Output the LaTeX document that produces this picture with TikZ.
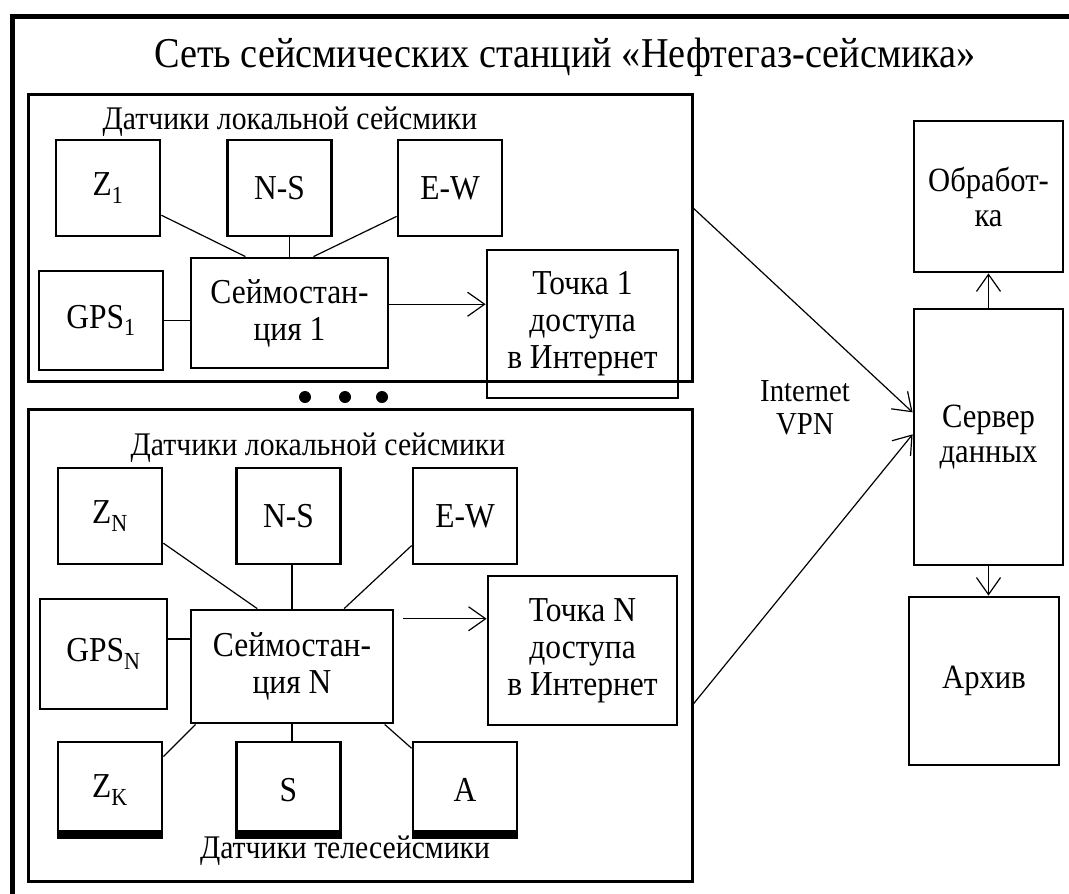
\documentclass[tikz,border=0pt]{standalone}
\usepackage{fontspec}
\setmainfont[FakeStretch=0.9]{Liberation Serif}
\usepackage{tikz}
\usetikzlibrary{shapes,arrows.meta}

\begin{document}
\begin{tikzpicture}[x=1pt,y=-1pt,
		box/.style={draw, line width=2.8pt, align=center, inner sep=0pt, font=\fontsize{35}{37}\selectfont},
		srv/.style={box, font=\fontsize{34}{35}\selectfont},
		grp/.style={draw, line width=3pt, inner sep=0pt},
		lbl/.style={font=\fontsize{33}{35}\selectfont},
		link/.style={line width=1.2pt},
		arr/.style={line width=1.2pt, -{Straight Barb[length=17pt,width=24pt]}}]
		\useasboundingbox (0,0) rectangle (1069,894);
		\draw[line width=5pt] (12,894) -- (12,16) -- (1069,16);
		\node[font=\fontsize{42.5}{46}\selectfont] (title) at (565,57) {Сеть сейсмических станций «Нефтегаз-сейсмика»};
		\node[grp, minimum width=664pt, minimum height=287pt] (grp1) at (360,237.5) {};
		\node[grp, minimum width=664pt, minimum height=472pt] (grp2) at (360,645) {};
		\node[lbl] (loc1) at (290,122) {Датчики локальной сейсмики};
		\node[lbl] (loc2) at (318,448) {Датчики локальной сейсмики};
		\node[lbl] (tele) at (345,851) {Датчики телесейсмики};
		\foreach \n/\x/\y/\t in {z1/108/188/Z\textsubscript{1}, ns1/279.5/188/N-S, ew1/450/188/E-W,
			zn/110/516/Z\textsubscript{N}, nsn/288.5/516/N-S, ewn/465/516/E-W,
			zk/110/790/Z\textsubscript{K}, s/288.5/790/S, a/465/790/A}{
			\node[box, minimum width=104pt, minimum height=96pt] (\n) at (\x,\y) {\t};
		}
		\foreach \n in {zk,s,a}{
			\draw[line width=9pt] ([yshift=4.5pt]\n.south west) -- ([yshift=4.5pt]\n.south east);
		}
		\node[box, minimum width=124pt, minimum height=99pt] (gps1) at (101,320.5) {GPS\textsubscript{1}};
		\node[box, minimum width=197pt, minimum height=110pt] (seis1) at (289.5,313) {Сеймостан-\\ция 1};
		\node[box, minimum width=191pt, minimum height=148pt] (tochka1) at (582.5,324) {Точка 1\\доступа\\в Интернет};
		\node[box, minimum width=127pt, minimum height=110pt] (gpsn) at (103.5,654) {GPS\textsubscript{N}};
		\node[box, minimum width=202pt, minimum height=113pt] (seisn) at (292,666.5) {Сеймостан-\\ция N};
		\node[box, minimum width=189pt, minimum height=149pt] (tochkan) at (582.5,650.5) {Точка N\\доступа\\в Интернет};
		\node[srv, minimum width=149pt, minimum height=151pt] (obrab) at (988.5,196.5) {Обработ-\\ка};
		\node[srv, minimum width=149pt, minimum height=256pt] (server) at (988.5,437) {Сервер\\данных};
		\node[srv, minimum width=150pt, minimum height=168pt] (arhiv) at (984,681) {Архив};
		\node[lbl, align=center, font=\fontsize{32}{33}\selectfont] (vpn) at (805,408) {Internet\\VPN};
		\foreach \x in {305,345,382}
			\fill (\x,397) circle (6pt);
		\draw[link] (z1.333) -- (seis1.128);
		\draw[link] (seis1.north) -- (seis1.north |- ns1.south);
		\draw[link] (ew1.208) -- (seis1.67);
		\draw[link] (gps1.east) -- (gps1.east -| seis1.west);
		\draw[arr] (seis1.5) -- (seis1.5 -| tochka1.west);
		\draw[link] (zn.333) -- (seisn.121);
		\draw[link] (seisn.north) -- (seisn.north |- nsn.south);
		\draw[link] (ewn.209) -- (seisn.48);
		\draw[link] (seisn.165) -- (seisn.165 -| gpsn.east);
		\draw[link] (seisn.211) -- (zk.32);
		\draw[link] (seisn.south) -- (seisn.south |- s.north);
		\draw[link] (seisn.328) -- (a.142);
		\draw[arr] ([xshift=9pt]seisn.25) -- (seisn.25 -| tochkan.west);
		\draw[arr] (grp1.5) -- (server.162);
		\draw[arr] (grp2.350) -- (server.178);
		\draw[arr] (server.south) -- (server.south |- arhiv.north);
		\draw[arr] (server.north) -- (obrab.south);
\end{tikzpicture}
\end{document}
